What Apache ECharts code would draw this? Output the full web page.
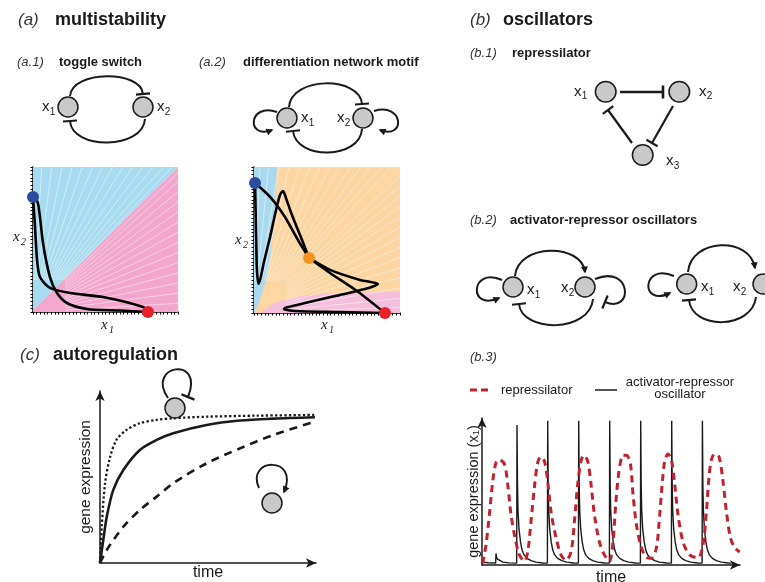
<!DOCTYPE html>
<html><head><meta charset="utf-8">
<script src="https://cdn.jsdelivr.net/npm/echarts@6/dist/echarts.min.js"></script>
<style>html,body{margin:0;padding:0;background:#fff}#c{width:765px;height:582px}</style>
</head><body><div id="c"></div><script>
// ---------- data ----------
// (a.1) toggle switch phase portrait (x1, x2 in [0,1])
const a1BlueRegion = [[0,0.015],[0,1],[1,1]];
const a1PinkRegion = [[0,0],[0,0.015],[1,1],[1,0]];
const a1TrajA = [[0,0.793],[0.014,0.586],[0.028,0.359],[0.048,0.241],[0.117,0.166],[0.255,0.131],[0.483,0.103],[0.759,0.034],[0.793,0]];
const a1TrajB = [[0,0.793],[0.034,0.752],[0.069,0.476],[0.117,0.241],[0.166,0.131],[0.234,0.062],[0.372,0.021],[0.6,0.01],[0.793,0]];
const a1Blue = [[0,0.793]];
const a1Red = [[0.793,0]];
// white flow lines: end points on the top edge (x) and right edge (y)
const a1FlowTop = [0.06,0.13,0.2,0.27,0.34,0.41,0.48,0.55,0.62,0.69,0.76,0.83,0.9,0.96];
const a1FlowRight = [0.06,0.13,0.2,0.27,0.34,0.41,0.48,0.55,0.62,0.69,0.76,0.83,0.9,0.96];
// (a.2) differentiation motif phase portrait
const a2OrangeRegion = [[0,0],[0,1],[1,1],[1,0]];
const a2BlueRegion = [[0,0],[0,1],[0.158,1],[0.15,0.8],[0.132,0.59],[0.11,0.36],[0.075,0.2],[0.041,0.09],[0.007,0.01]];
const a2PinkRegion = [[0.04,0],[0.132,0.066],[0.292,0.112],[0.521,0.135],[1,0.146],[1,0]];
const a2FlowTop = [0.04,0.1,0.17,0.24,0.31,0.38,0.45,0.52,0.59,0.66,0.73,0.8,0.87,0.94];
const a2FlowRight = [0.04,0.1,0.17,0.24,0.31,0.38,0.45,0.52,0.59,0.66,0.73,0.8,0.87,0.94];
const a2Traj1 = [[0.007,0.89],[0.11,0.795],[0.212,0.658],[0.301,0.5],[0.377,0.377]];
const a2Traj2 = [[0.377,0.377],[0.329,0.5],[0.26,0.671],[0.219,0.788],[0.199,0.836],[0.178,0.808],[0.151,0.705],[0.11,0.521],[0.068,0.349],[0.045,0.24],[0.03,0.2],[0.02,0.3],[0.015,0.5],[0.011,0.7],[0.007,0.89]];
const a2Traj3 = [[0.377,0.377],[0.521,0.295],[0.726,0.226],[0.849,0.199],[0.76,0.164],[0.555,0.116],[0.349,0.068],[0.233,0.041],[0.205,0.027],[0.281,0.014],[0.589,0.007],[0.897,0]];
const a2Traj4 = [[0.377,0.377],[0.521,0.274],[0.705,0.151],[0.897,0]];
const a2Blue = [[0.007,0.89]];
const a2Orange = [[0.377,0.377]];
const a2Red = [[0.897,0]];
// (c) autoregulation: [time, gene expression]
const cNegative = [[0,0],[0.8,20.6],[2.3,45],[4.6,60],[7.6,70],[12.2,75.6],[18.3,79.4],[26,81.3],[33.6,82.2],[48.9,83.1],[71.9,83.7],[98.6,84.1]];
const cUnregulated = [[0,0],[1.5,13],[3.1,26.3],[6.1,41.5],[10.7,52.8],[18.3,64.2],[26,69.9],[33.6,73.7],[48.9,78.4],[64.2,80.9],[79.5,82],[98.6,82.8]];
const cPositive = [[0,0],[3.1,7.4],[10.7,20.6],[18.3,30.1],[26,37.7],[33.6,45.3],[48.9,56.6],[64.2,65.1],[79.5,72.7],[98.6,80.3]];
// (b.3) time series: [time, x1]
const repressilator = [[0.7,1],[4,14],[7.4,35],[10.7,58],[14,71],[17.4,73],[22.4,70],[25.7,56],[29,35],[33,19],[37.4,7],[42.4,2.6],[45.7,9],[49,30],[52.4,54],[55.7,71],[59,75],[62.4,72],[65.7,58],[69,37],[74,19],[79,7],[84,3.3],[89,9],[92.4,30],[95.7,56],[99,72],[101.7,76],[105.7,72],[109,56],[112.4,35],[117.4,16],[122.4,7],[127.4,2.6],[131,16],[133.7,42],[137,65],[141,76],[144.4,76],[148.4,70],[151,49],[154.4,28],[159.4,12],[164.4,5.4],[169.4,4.7],[174.4,12],[177.7,35],[180.4,58],[182.7,72],[186,77],[189.4,73],[192.7,56],[196,35],[201,16],[207.7,7],[216,5],[221,14],[224.4,37],[227,61],[229.4,73],[232.7,77],[237,75],[241,58],[244.4,37],[248.4,19],[252.7,12],[257.7,9]];
const actRepOscillator = [[0,2],[6,1.6],[13.7,1.4],[14,8],[14.5,5.5],[15.5,4],[17.5,2.8],[21,2],[27,1.5],
[34.7,1.3],[35,97],[35.5,55],[36,38],[37,25],[38.5,16],[40,10.5],[42,7],[45,4.6],[49,3],[54,2],[61,1.4],
[65.4,1.3],[65.7,100],[66.2,55],[66.7,38],[67.7,25],[69.2,16],[70.7,10.5],[72.7,7],[75.7,4.6],[79.7,3],[84.7,2],[91.7,1.4],
[96.4,1.3],[96.7,100],[97.2,55],[97.7,38],[98.7,25],[100.2,16],[101.7,10.5],[103.7,7],[106.7,4.6],[110.7,3],[115.7,2],[122.7,1.4],
[127.4,1.3],[127.7,100],[128.2,55],[128.7,38],[129.7,25],[131.2,16],[132.7,10.5],[134.7,7],[137.7,4.6],[141.7,3],[146.7,2],[153.7,1.4],
[158.4,1.3],[158.7,100],[159.2,55],[159.7,38],[160.7,25],[162.2,16],[163.7,10.5],[165.7,7],[168.7,4.6],[172.7,3],[177.7,2],[184.7,1.4],
[189.4,1.3],[189.7,100],[190.2,55],[190.7,38],[191.7,25],[193.2,16],[194.7,10.5],[196.7,7],[199.7,4.6],[203.7,3],[208.7,2],[215.7,1.4],
[220.1,1.3],[220.4,100],[220.9,55],[221.4,38],[222.4,25],[223.9,16],[225.4,10.5],[227.4,7],[230.4,4.6],[234.4,3],[239.4,2],[246.4,1.4],[249.5,1.3]];

// ---------- styling / helpers ----------
const INK = '#1a1a1a';
const FONT = 'Liberation Sans';
const G = [];
function txt(x,y,s,font,opt){ G.push({type:'text', x:x, y:y, z:20, style:Object.assign({text:s, font:font, fill:INK, align:'left', verticalAlign:'middle'}, opt||{})}); }
function xlabel(x,y,sub,fs){ fs=fs||15; txt(x,y,'x',fs+'px '+FONT); txt(x+fs*0.5+0.3,y+fs*0.32,sub,Math.round(fs*0.68)+'px '+FONT); }
function node(cx,cy,r){ G.push({type:'circle', z:20, shape:{cx:cx,cy:cy,r:r||10}, style:{fill:'#c9c9c9', stroke:INK, lineWidth:1.5}}); }
function bez(p0,c1,c2,p1,w){ G.push({type:'bezierCurve', z:20, shape:{x1:p0[0],y1:p0[1],cpx1:c1[0],cpy1:c1[1],cpx2:c2[0],cpy2:c2[1],x2:p1[0],y2:p1[1]}, style:{stroke:INK, lineWidth:w||2, fill:null}}); }
function seg(p0,p1,w){ G.push({type:'line', z:20, shape:{x1:p0[0],y1:p0[1],x2:p1[0],y2:p1[1]}, style:{stroke:INK, lineWidth:w||2}}); }
function dir(a,b){ const dx=b[0]-a[0], dy=b[1]-a[1], l=Math.hypot(dx,dy); return [dx/l,dy/l]; }
function arrowHead(from,tip,s){ s=s||7; const d=dir(from,tip), p=[-d[1],d[0]]; const t=[tip[0]+d[0]*1.5,tip[1]+d[1]*1.5]; const b=[t[0]-d[0]*s,t[1]-d[1]*s];
  G.push({type:'polygon', z:20, shape:{points:[t,[b[0]+p[0]*s*0.5,b[1]+p[1]*s*0.5],[b[0]-p[0]*s*0.5,b[1]-p[1]*s*0.5]]}, style:{fill:INK}}); }
function tBar(from,end,h,w){ h=h||7; const d=dir(from,end), p=[-d[1],d[0]]; seg([end[0]+p[0]*h,end[1]+p[1]*h],[end[0]-p[0]*h,end[1]-p[1]*h],w||2.2); }
function act(p0,c1,c2,p1){ bez(p0,c1,c2,p1); arrowHead(c2,p1); }
function inh(p0,c1,c2,p1){ bez(p0,c1,c2,p1); tBar(c2,p1); }

// ---------- titles ----------
const IT13 = 'italic 13px '+FONT, B13 = 'bold 13px '+FONT, IT17='italic 17px '+FONT, B18='bold 18px '+FONT;
txt(18,20,'(a)',IT17,{fill:'#333'}); txt(55,20,'multistability',B18);
txt(17,62,'(a.1)',IT13,{fill:'#333'}); txt(59,62,'toggle switch',B13);
txt(199,62,'(a.2)',IT13,{fill:'#333'}); txt(243,62,'differentiation network motif',B13);
txt(470,20,'(b)',IT17,{fill:'#333'}); txt(503,20,'oscillators',B18);
txt(470,53,'(b.1)',IT13,{fill:'#333'}); txt(512,53,'repressilator',B13);
txt(470,220,'(b.2)',IT13,{fill:'#333'}); txt(510,220,'activator-repressor oscillators',B13);
txt(470,357,'(b.3)',IT13,{fill:'#333'});
txt(20,355,'(c)',IT17,{fill:'#333'}); txt(53,355,'autoregulation',B18);

// ---------- network diagrams ----------
// a.1 toggle switch
node(68,107); node(143,107);
xlabel(42,107,'1'); xlabel(157,107,'2');
inh([70,96],[72,70],[141,70],[143,94]);
inh([145,119],[143,150],[72,150],[70,121]);
// a.2 differentiation motif
node(287,118); node(363,118);
xlabel(301,118,'1'); xlabel(337,118,'2');
inh([289,107],[291,76],[360,76],[362,104]);
inh([362,129],[360,160],[296,160],[293,131]);
act([277,112],[248,102],[246,140],[272,130]);
act([374,111],[404,102],[406,140],[380,130]);
// b.1 repressilator
node(605.7,91.7,10.3); node(679.3,91.7,10.3); node(642.7,155,10.3);
xlabel(574,91.7,'1'); xlabel(699,91.7,'2'); xlabel(666,161,'3');
seg([620,92],[663,92],2.6); tBar([620,92],[663,92],6.5,2.6);
seg([673,106],[652,143],2.2); tBar([673,106],[652,143],6.5,2.2);
seg([632,143],[608,110],2.2); tBar([632,143],[608,110],6.5,2.2);
// b.2 activator-repressor oscillators (two motifs)
node(513,287); node(585,287);
xlabel(527,290,'1'); xlabel(561,288,'2');
act([515,276],[518,243],[582,243],[585,272]);
inh([593,299],[590,333],[522,333],[519,304]);
act([502,280],[470,266],[468,312],[499,298]);
inh([595,279],[632,264],[634,314],[605,302]);
node(686.7,284); node(763,284);
xlabel(701,287,'1'); xlabel(733,287,'2');
act([688,272],[691,238],[750,236],[755,268]);
inh([756,297],[752,330],[692,330],[689,300]);
act([674,276],[641,262],[640,308],[670,293]);
// c icons
node(175,408); inh([168,398],[145,365],[205,355],[188,397]);
node(272,503); act([259,488],[245,458],[300,455],[284,492]);

// b.3 legend
G.push({type:'line', z:20, shape:{x1:470,y1:390,x2:492,y2:390}, style:{stroke:'#c4212f', lineWidth:3, lineDash:[7,4]}});
txt(501,390,'repressilator','13px '+FONT);
G.push({type:'line', z:20, shape:{x1:595,y1:390,x2:617,y2:390}, style:{stroke:INK, lineWidth:1.5}});
txt(680,382,'activator-repressor','13px '+FONT,{align:'center'});
txt(680,394,'oscillator','13px '+FONT,{align:'center'});

// phase axes names
const SER = 'italic 15px Liberation Serif';
txt(13,237,'x',SER); txt(21,242,'2','italic 10px Liberation Serif');
txt(101,325,'x',SER); txt(109,330,'1','italic 10px Liberation Serif');
txt(235,240,'x',SER); txt(243,245,'2','italic 10px Liberation Serif');
txt(321,325,'x',SER); txt(329,330,'1','italic 10px Liberation Serif');

// ---------- chart ----------
function region(gi, pts, color){
  return {type:'custom', xAxisIndex:gi, yAxisIndex:gi, silent:true, z:1, data:[[0,0]], clip:false,
    renderItem:function(params, api){ return {type:'polygon', shape:{points:pts.map(function(p){return api.coord(p);})}, style:{fill:color}}; }};
}
function flow(gi, tops, rights){
  const rays = tops.map(function(x){return [x,1];}).concat(rights.map(function(y){return [1,y];}));
  return {type:'custom', xAxisIndex:gi, yAxisIndex:gi, silent:true, z:2, data:rays, clip:true,
    renderItem:function(params, api){
      const x = api.value(0), y = api.value(1);
      const a = api.coord([x*0.22, y*0.22]), b = api.coord([x, y]);
      return {type:'line', shape:{x1:a[0],y1:a[1],x2:b[0],y2:b[1]}, style:{stroke:'rgba(255,255,255,0.6)', lineWidth:0.8}};
    }};
}
function traj(gi, pts){
  return {type:'line', xAxisIndex:gi, yAxisIndex:gi, data:pts, showSymbol:false, smooth:0.25, clip:false, z:5,
    lineStyle:{color:'#000', width:2.6}};
}
function fixedPt(gi, pts, color){
  return {type:'scatter', xAxisIndex:gi, yAxisIndex:gi, data:pts, symbolSize:12, clip:false, z:8, itemStyle:{color:color, opacity:1}};
}
function phaseAxis(gi){
  return {gridIndex:gi, type:'value', min:0, max:1, interval:0.025,
    axisLine:{show:true, onZero:false, lineStyle:{color:'#000', width:1.5}},
    axisTick:{show:true, length:2.5, lineStyle:{color:'#000', width:1}},
    axisLabel:{show:false}, splitLine:{show:false}};
}
function arrowAxis(gi, min, max, name, extra){
  return Object.assign({gridIndex:gi, type:'value', min:min, max:max,
    axisLine:{show:true, onZero:false, symbol:['none','arrow'], symbolSize:[7,10], lineStyle:{color:INK, width:1.5}},
    axisTick:{show:false}, axisLabel:{show:false}, splitLine:{show:false},
    name:name, nameLocation:'middle'}, extra);
}

const option = {
  animation:false,
  textStyle:{fontFamily:FONT},
  grid:[
    {left:33, top:167, width:145, height:145, outerBoundsMode:'none'},
    {left:254, top:167, width:146, height:146, outerBoundsMode:'none'},
    {left:100, top:391, width:216, height:172, outerBoundsMode:'none'},
    {left:482, top:418, width:258, height:147, outerBoundsMode:'none'}
  ],
  xAxis:[
    phaseAxis(0), phaseAxis(1),
    arrowAxis(2,0,99.1,'time',{nameGap:2, nameTextStyle:{fontSize:16, color:INK, verticalAlign:'top'}}),
    arrowAxis(3,0,258,'time',{nameGap:5, nameTextStyle:{fontSize:16, color:INK, verticalAlign:'top'}})
  ],
  yAxis:[
    phaseAxis(0), phaseAxis(1),
    arrowAxis(2,0,97.7,'gene expression',{nameGap:6, nameRotate:90, nameTextStyle:{fontSize:15.5, color:INK}}),
    arrowAxis(3,0,101.9,'gene expression (x{s|1})',{nameGap:1, nameRotate:90, nameTextStyle:{fontSize:14.5, color:INK, lineHeight:15, rich:{s:{fontSize:9.5, lineHeight:9, verticalAlign:'bottom', color:INK}}}})
  ],
  series:[
    region(0, a1PinkRegion, '#f3a7cd'),
    region(0, a1BlueRegion, '#a7dbf0'),
    flow(0, a1FlowTop, a1FlowRight),
    traj(0, a1TrajA), traj(0, a1TrajB),
    fixedPt(0, a1Blue, '#2d4b9f'), fixedPt(0, a1Red, '#e8202a'),
    region(1, a2OrangeRegion, '#fdd6a1'),
    region(1, a2BlueRegion, '#a9d9ef'),
    region(1, a2PinkRegion, '#f5bedb'),
    flow(1, a2FlowTop, a2FlowRight),
    traj(1, a2Traj1), traj(1, a2Traj2), traj(1, a2Traj3), traj(1, a2Traj4),
    fixedPt(1, a2Blue, '#2d4b9f'), fixedPt(1, a2Orange, '#f39422'), fixedPt(1, a2Red, '#e8202a'),
    {type:'line', xAxisIndex:2, yAxisIndex:2, data:cNegative, showSymbol:false, smooth:0.3, lineStyle:{color:INK, width:2.3, type:'dotted'}},
    {type:'line', xAxisIndex:2, yAxisIndex:2, data:cUnregulated, showSymbol:false, smooth:0.3, lineStyle:{color:INK, width:2.6}},
    {type:'line', xAxisIndex:2, yAxisIndex:2, data:cPositive, showSymbol:false, smooth:0.3, lineStyle:{color:INK, width:2.6, type:[8,6]}},
    {type:'line', xAxisIndex:3, yAxisIndex:3, data:actRepOscillator, showSymbol:false, lineStyle:{color:INK, width:1.4}, z:3},
    {type:'line', xAxisIndex:3, yAxisIndex:3, data:repressilator, showSymbol:false, smooth:0.3, lineStyle:{color:'#c4212f', width:3, type:[7,5]}, z:4}
  ],
  graphic:{elements:G}
};
const chart = echarts.init(document.getElementById('c'));
chart.setOption(option);
</script></body></html>
